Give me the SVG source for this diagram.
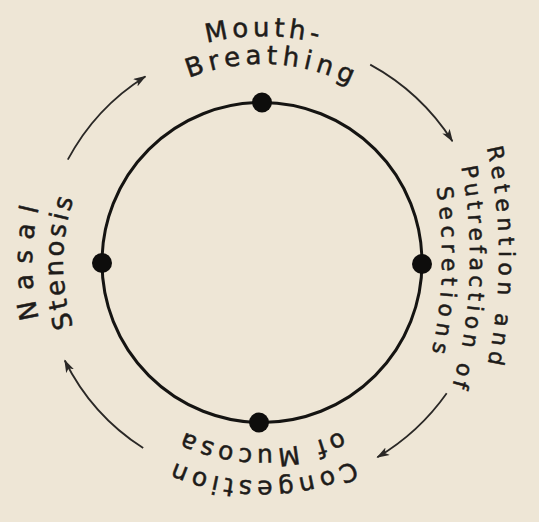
<svg xmlns="http://www.w3.org/2000/svg" xmlns:xlink="http://www.w3.org/1999/xlink" width="539" height="522" viewBox="0 0 539 522">
  <style>
    .lbl { font-family: "DejaVu Sans", "Liberation Sans", sans-serif; font-size: 26px; fill: #1e1c1a; stroke: #1e1c1a; stroke-width: 0.5; }
    .sm { font-size: 22px; }
    .md { font-size: 25px; }
    .arrow { fill: none; stroke: #2a2826; stroke-width: 1.8; marker-end: url(#head); }
    .ring { fill: none; stroke: #151412; stroke-width: 3; }
    .dot { fill: #0e0d0c; }
  </style>
  <defs>
    <marker id="head" viewBox="0 0 12 8" refX="11" refY="4" markerWidth="13" markerHeight="9" markerUnits="userSpaceOnUse" orient="auto">
      <path d="M0,0 L12,4 L0,8 L3,4 z" fill="#2a2826"/>
    </marker>
    <path id="pMouth" d="M35,263 A227,227 0 0 1 489,263"/>
    <path id="pBreath" d="M63,263 A199,199 0 0 1 461,263"/>
    <path id="pRet" d="M-3,-244 A502,502 0 0 1 -3,760"/>
    <path id="pPut" d="M-3,-215 A473,473 0 0 1 -3,731"/>
    <path id="pSec" d="M-3,-187 A445,445 0 0 1 -3,703"/>
    <path id="pCong" d="M480,263 A218,218 0 0 1 44,263"/>
    <path id="pMuc" d="M448,263 A186,186 0 0 1 76,263"/>
    <path id="pNasal" d="M262,493 A230,230 0 0 1 262,33"/>
    <path id="pSten" d="M262,462 A199,199 0 0 1 262,64"/>
  </defs>
  <rect x="0" y="0" width="539" height="522" fill="#eee6d6"/>

  <g id="cycle">
    <circle class="ring" cx="262" cy="262.5" r="160"/>
  </g>

  <g id="connectors">
    <path class="arrow" d="M67.8,159.7 A220,220 0 0 1 145.4,76.4"/>
    <path class="arrow" d="M370.2,64.6 A226,226 0 0 1 452.4,141.2"/>
    <path class="arrow" d="M446.7,393.3 A226,226 0 0 1 377.4,457.3"/>
    <path class="arrow" d="M143.2,448.1 A220,220 0 0 1 64.8,360.5"/>
  </g>

  <g id="node-mouth-breathing">
    <circle class="dot" cx="262" cy="102.5" r="10"/>
    <text class="lbl"><textPath xlink:href="#pMouth" href="#pMouth" startOffset="356.6" text-anchor="middle" textLength="112" lengthAdjust="spacing">Mouth-</textPath></text>
    <text class="lbl"><textPath xlink:href="#pBreath" href="#pBreath" startOffset="320.6" text-anchor="middle" textLength="166" lengthAdjust="spacing">Breathing</textPath></text>
  </g>

  <g id="node-retention">
    <circle class="dot" cx="422" cy="264" r="10"/>
    <text class="lbl sm"><textPath xlink:href="#pRet" href="#pRet" startOffset="786" text-anchor="middle" textLength="218" lengthAdjust="spacing">Retention and</textPath></text>
    <text class="lbl sm"><textPath xlink:href="#pPut" href="#pPut" startOffset="762" text-anchor="middle" textLength="222" lengthAdjust="spacing">Putrefaction of</textPath></text>
    <text class="lbl sm"><textPath xlink:href="#pSec" href="#pSec" startOffset="711" text-anchor="middle" textLength="166" lengthAdjust="spacing">Secretions</textPath></text>
  </g>

  <g id="node-congestion">
    <circle class="dot" cx="259" cy="422.5" r="10"/>
    <text class="lbl md"><textPath xlink:href="#pCong" href="#pCong" startOffset="340" text-anchor="middle" textLength="184" lengthAdjust="spacing">Congestion</textPath></text>
    <text class="lbl md"><textPath xlink:href="#pMuc" href="#pMuc" startOffset="291" text-anchor="middle" textLength="162" lengthAdjust="spacing">of Mucosa</textPath></text>
  </g>

  <g id="node-nasal-stenosis">
    <circle class="dot" cx="102" cy="263" r="10"/>
    <text class="lbl"><textPath xlink:href="#pNasal" href="#pNasal" startOffset="361" text-anchor="middle" textLength="112" lengthAdjust="spacing">Nasal</textPath></text>
    <text class="lbl"><textPath xlink:href="#pSten" href="#pSten" startOffset="312.6" text-anchor="middle" textLength="130" lengthAdjust="spacing">Stenosis</textPath></text>
  </g>
</svg>
